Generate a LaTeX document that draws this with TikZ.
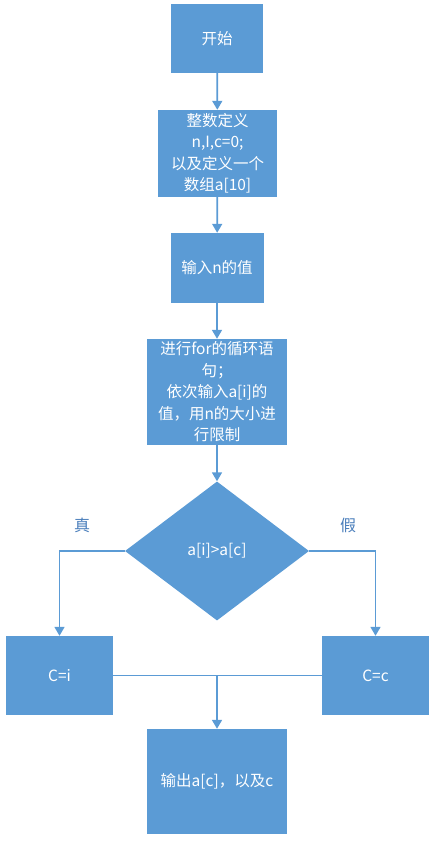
\documentclass[tikz,border=0pt]{standalone}
\usepackage{fontspec}
\newfontfamily\cjk{Noto Sans CJK SC}
\usetikzlibrary{shapes.geometric,arrows.meta}
\definecolor{boxblue}{HTML}{5B9BD5}
\definecolor{labblue}{HTML}{4A7EBB}
\begin{document}
\begin{tikzpicture}[x=1pt,y=-1pt,inner sep=0pt,
  box/.style={rectangle,fill=boxblue,text=white,font=\cjk\fontsize{15.5}{21.5}\selectfont,align=center},
  decide/.style={diamond,fill=boxblue,text=white,font=\cjk\fontsize{15.5}{21.5}\selectfont,minimum width=184pt,minimum height=139pt},
  line/.style={draw=boxblue,line width=1.7pt},
  arr/.style={line,-{Triangle[width=10pt,length=9pt]}},
  lab/.style={text=labblue,font=\cjk\fontsize{16}{18}\selectfont}]

\useasboundingbox (0,0) rectangle (436,845);

\node[box,minimum width=92pt,minimum height=69pt] (start) at (217,38.5) {开始};

\node[box,minimum width=119pt,minimum height=87pt] (def) at (217.5,153.5) {整数定义\\n,I,c=0;\\以及定义一个\\数组a[10]};

\node[box,minimum width=93pt,minimum height=70pt] (inp) at (217,268) {输入n的值};

\node[box,minimum width=140pt,minimum height=106pt] (loop) at (217,392) {进行for的循环语\\句；\\依次输入a[i]的\\值，用n的大小进\\行限制};

\node[decide] (cmp) at (217,551) {a[i]>a[c]};

\node[box,minimum width=107pt,minimum height=79pt] (ci) at (59.5,675.5) {C=i};
\node[box,minimum width=107pt,minimum height=79pt] (cc) at (375.5,675.5) {C=c};

\node[box,minimum width=140pt,minimum height=105pt] (out) at (217,781.5) {输出a[c]，以及c};

\node[lab] (yes) at (82,525) {真};
\node[lab] (no) at (348,525) {假};

\draw[arr] (start) -- (def);
\draw[arr] (def) -- (inp);
\draw[arr] (inp) -- (loop);
\draw[arr] (loop) -- (cmp);

\draw[arr] (cmp.west) -| (ci.north);
\draw[arr] (cmp.east) -| (cc.north);

\draw[line] (ci.east) -- (cc.west);
\coordinate (join) at (ci.east -| out.north);
\draw[arr] (join) -- (out.north);

\end{tikzpicture}
\end{document}
